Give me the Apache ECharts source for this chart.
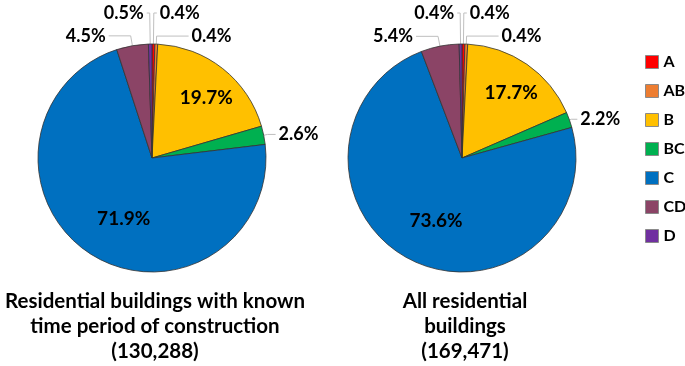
<!DOCTYPE html>
<html>
<head>
<meta charset="utf-8">
<script src="https://cdn.jsdelivr.net/npm/echarts@6/dist/echarts.min.js"></script>
<style>
  html, body { margin: 0; padding: 0; background: #fff; }
  #chart { width: 685px; height: 366px; }
</style>
</head>
<body>
<div id="chart"></div>
<script>
// classes, clockwise from 12 o'clock
const classes = ['A', 'AB', 'B', 'BC', 'C', 'CD', 'D'];
const classColors = ['#FF0000', '#ED7D31', '#FFC000', '#00B050', '#0070C0', '#8B4466', '#7030A0'];

// share of buildings per class (%)
const knownPeriodShares = [0.4, 0.4, 19.7, 2.6, 71.9, 4.5, 0.5];
const allBuildingShares = [0.4, 0.4, 17.7, 2.2, 73.6, 5.4, 0.4];

const pieTitles = [
    'Residential buildings with known\ntime period of construction\n(130,288)',
    'All residential\nbuildings\n(169,471)'
];

const fontFamily = 'Lato, "Noto Sans", sans-serif';

// leader line lengths for the outside labels [length, length2]; B and C sit inside
const leftLines = [[31, 3], [8, 32], null, [4, 8], null, [10, 22], [31, 3]];
const rightLines = [[31, 3], [8, 32], null, [2, 6], null, [10, 22], [31, 3]];
// nudges for the inside labels
const insideNudge = [
    { 2: [17, -13], 4: [4, 10] },
    { 2: [15, -16], 4: [1, 9] }
];

const buildData = (values, lines) => values.map((v, i) => {
    const item = {
        name: classes[i],
        value: v,
        itemStyle: { color: classColors[i] }
    };
    if (lines[i]) {
        item.label = { position: 'outside', fontSize: 18 };
        item.labelLine = { show: true, length: lines[i][0], length2: lines[i][1] };
    } else {
        item.label = { position: 'inside', fontSize: 19 };
        item.labelLine = { show: false };
    }
    return item;
});

const makePie = (values, lines, center, si) => ({
    type: 'pie',
    center: center,
    radius: 114,
    startAngle: 90,
    clockwise: true,
    avoidLabelOverlap: false,
    animation: false,
    itemStyle: { borderColor: '#333', borderWidth: 0.8 },
    label: {
        show: true,
        formatter: (p) => p.value.toFixed(1) + '%',
        color: '#000',
        fontWeight: 'bold',
        fontFamily: fontFamily,
        distanceToLabelLine: 3
    },
    labelLine: { lineStyle: { color: '#BFBFBF', width: 1 }, smooth: false },
    labelLayout: (p) => {
        const n = insideNudge[si][p.dataIndex];
        if (n) {
            return { dx: n[0], dy: n[1] };
        }
    },
    emphasis: { disabled: true },
    data: buildData(values, lines)
});

const chart = echarts.init(document.getElementById('chart'), null, { renderer: 'canvas' });

const option = {
    backgroundColor: '#fff',
    animation: false,
    title: pieTitles.map((t, i) => ({
        text: t,
        left: i === 0 ? 155 : 465,
        top: 289,
        textAlign: 'center',
        padding: 0,
        textStyle: {
            fontFamily: fontFamily,
            fontWeight: 'bold',
            fontSize: 20.5,
            lineHeight: 25,
            color: '#000'
        }
    })),
    legend: {
        orient: 'vertical',
        left: 645,
        top: 54,
        padding: 0,
        itemWidth: 13,
        itemHeight: 13,
        itemGap: 13,
        icon: 'rect',
        data: classes,
        textStyle: { fontFamily: fontFamily, fontWeight: 'bold', fontSize: 16, color: '#000' },
        itemStyle: { borderColor: '#8a8a8a', borderWidth: 1 }
    },
    series: [
        makePie(knownPeriodShares, leftLines, [152, 158], 0),
        makePie(allBuildingShares, rightLines, [462, 158], 1)
    ]
};

chart.setOption(option);
</script>
</body>
</html>
